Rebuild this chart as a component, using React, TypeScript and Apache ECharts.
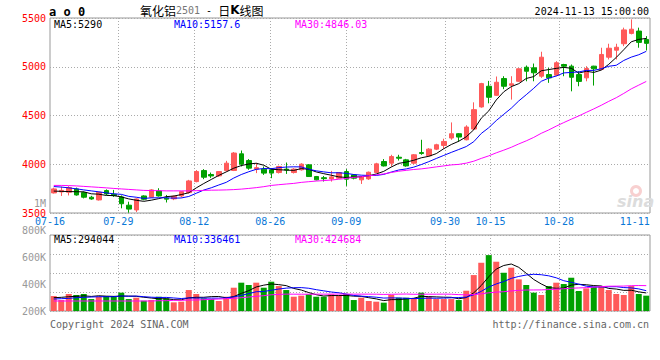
import React, { useEffect, useRef } from 'react';
import * as echarts from 'echarts';

const dates = [
  '07-16','07-17','07-18','07-19','07-22','07-23','07-24','07-25','07-26','07-29','07-30','07-31',
  '08-01','08-02','08-05','08-06','08-07','08-08','08-09','08-12','08-13','08-14','08-15','08-16',
  '08-19','08-20','08-21','08-22','08-23','08-26','08-27','08-28','08-29','08-30',
  '09-02','09-03','09-04','09-05','09-06','09-09','09-10','09-11','09-12','09-13','09-18','09-19',
  '09-20','09-23','09-24','09-25','09-26','09-27','09-30',
  '10-08','10-09','10-10','10-11','10-14','10-15','10-16','10-17','10-18','10-21','10-22','10-23',
  '10-24','10-25','10-28','10-29','10-30','10-31',
  '11-01','11-04','11-05','11-06','11-07','11-08','11-11','11-12','11-13'
];

const opens = [
  3706,3716,3713,3747,3709,3662,3634,3730,3692,3665,3580,3531,
  3675,3662,3726,3652,3645,3675,3709,3822,3935,3895,3881,3935,
  3936,4107,4038,3950,3950,3943,3915,3950,3915,3943,
  3994,3874,3862,3850,3857,3925,3891,3840,3850,3915,4028,4011,
  4072,4045,4011,4120,4087,4155,4193,
  4269,4313,4251,4361,4588,4800,4707,4879,4810,4851,4995,4989,
  4903,4920,4913,5023,5006,4920,
  4886,5006,4972,5098,5170,5236,5342,5366,5280
];
const closes = [
  3747,3732,3761,3685,3662,3644,3713,3696,3678,3595,3540,3644,
  3641,3737,3675,3642,3672,3719,3829,3925,3867,3880,3925,4011,
  4115,4001,3960,3965,3909,3909,3977,3940,3950,4001,
  3874,3840,3852,3870,3915,3847,3857,3874,3918,4004,3983,4079,
  4062,3983,4097,4110,4155,4200,4234,
  4313,4279,4382,4560,4827,4687,4841,4800,4825,4979,4954,4938,
  5098,4886,5041,5005,4892,4850,
  4982,4979,5126,5190,5200,5378,5385,5250,5240
];
const lows = [
  3700,3675,3680,3678,3650,3636,3628,3684,3665,3548,3503,3510,
  3630,3655,3668,3608,3632,3660,3700,3815,3847,3860,3870,3925,
  3930,3977,3943,3909,3891,3857,3905,3901,3905,3935,
  3870,3835,3823,3822,3850,3778,3845,3798,3840,3910,3977,3977,
  4038,3975,4000,4097,4080,4145,4159,
  4251,4230,4245,4350,4580,4625,4700,4770,4663,4845,4851,4851,
  4886,4835,4903,4903,4748,4800,
  4851,4807,4965,5075,5075,5211,5332,5195,5167
];
const highs = [
  3760,3771,3775,3760,3720,3676,3718,3742,3737,3680,3616,3650,
  3682,3745,3754,3685,3680,3722,3840,3940,3950,3915,3930,4035,
  4125,4141,4053,4012,3977,3960,3985,4018,3960,4010,
  4000,3880,3880,3932,3920,3950,3900,3880,3925,4015,4053,4097,
  4097,4055,4105,4251,4165,4210,4262,
  4429,4320,4400,4635,4835,4855,4900,4903,4903,4985,5013,5033,
  5154,4989,5057,5030,5023,4954,
  5006,5010,5195,5236,5236,5401,5486,5401,5314
];
const volumes = [
  244000,179000,277000,261000,277000,195000,233000,244000,244000,299000,195000,217000,
  168000,179000,233000,206000,141000,152000,342000,277000,206000,195000,163000,233000,
  380000,462000,424000,462000,380000,478000,407000,342000,233000,250000,
  272000,233000,233000,272000,250000,277000,179000,217000,163000,152000,136000,261000,
  217000,217000,206000,299000,233000,195000,195000,
  195000,179000,331000,586000,787000,912000,804000,624000,706000,516000,424000,299000,
  261000,407000,462000,440000,543000,326000,
  369000,396000,407000,342000,277000,261000,407000,277000,250000
];

// moving-average values before the visible window begins
const ma5Head = [3725, 3722, 3720, 3718];
const ma10Head = [3771, 3766, 3758, 3748, 3737, 3727, 3717, 3706, 3697];
const ma30Head = [
  3783,3783,3781,3778,3773,3768,3763,3758,3752,3747,3742,3737,3732,3730,3729,
  3727,3727,3727,3727,3729,3732,3734,3735,3737,3740,3745,3752,3760,3770
];
const volMa5Head = [217000, 223000, 233000, 239000];
const volMa10Head = [195000, 201000, 206000, 217000, 223000, 228000, 233000, 233000, 233000];
const volMa30Head = [
  163000,163000,163000,163000,163000,163000,163000,163000,163000,163000,163000,163000,163000,
  163000,168000,168000,174000,174000,179000,179000,185000,190000,195000,201000,206000,
  217000,228000,239000,250000
];

const xTickLabels = ['07-16','07-29','08-12','08-26','09-09','09-30','10-15','10-28','11-11'];
const xGridDates = ['07-29','08-12','08-26','09-09','09-30','10-15','10-28'];
const volTickLabels = ['200K','400K','600K','800K','1M'];
const mainLegend = ['MA5:5290', 'MA10:5157.6', 'MA30:4846.03'];
const volLegend = ['MA5:294044', 'MA10:336461', 'MA30:424684'];
const legendColors = ['#000000', '#0000ff', '#ff00ff'];

const UP = '#ff5a5a';
const DOWN = '#00a000';
const MONO = "'DejaVu Sans Mono', monospace";

function movingAverage(values: number[], n: number, head: number[]) {
  return values.map((_, i) => {
    if (i < n - 1) return head[i];
    let s = 0;
    for (let k = i - n + 1; k <= i; k++) s += values[k];
    return +(s / n).toFixed(2);
  });
}

export default function App() {
  const ref = useRef<HTMLDivElement>(null);
  useEffect(() => {
    if (!ref.current) return;
    const chart = echarts.init(ref.current, null, { renderer: 'svg' });
    const candles = dates.map((_, i) => [opens[i], closes[i], lows[i], highs[i]]);
    const volData = volumes.map((v, i) => ({
      value: v,
      itemStyle: { color: closes[i] >= opens[i] ? UP : DOWN },
    }));
    const dotted = { color: '#aaaaaa', width: 1, type: [1, 2] as any };
    const lineSeries = (name: string, data: number[], color: string, xi: number, yi: number) => ({
      name, type: 'line', data, xAxisIndex: xi, yAxisIndex: yi, showSymbol: false, symbol: 'none',
      silent: true, lineStyle: { color, width: 1 }, z: 3,
    });
    const legendText = (arr: string[], y: number) =>
      arr.map((t, k) => ({
        type: 'text', x: [54, 174, 295][k], y, z: 10,
        style: { text: t, fill: legendColors[k], font: `10px ${MONO}`, verticalAlign: 'middle', align: 'left' },
      }));

    const option: any = {
      animation: false,
      backgroundColor: '#ffffff',
      textStyle: { fontFamily: MONO },
      grid: [
        { left: 50, right: 10, top: 18, height: 195, show: true, borderColor: '#999', borderWidth: 1 },
        { left: 50, right: 10, top: 235, height: 76, show: true, borderColor: '#999', borderWidth: 1 },
        { left: 50, right: 10, top: 203, height: 108, show: false },
      ],
      xAxis: [
        { type: 'category', gridIndex: 0, position: 'bottom', data: dates, boundaryGap: true, show: false },
        {
          type: 'category', gridIndex: 0, position: 'bottom', data: dates, boundaryGap: false,
          axisLine: { show: false }, axisTick: { show: false },
          axisLabel: {
            interval: (_i: number, v: string) => xTickLabels.includes(v),
            color: '#0a78d7', fontSize: 10, lineHeight: 10, fontFamily: MONO, margin: 3,
          },
          splitLine: { show: true, interval: (_i: number, v: string) => xGridDates.includes(v), lineStyle: dotted },
        },
        { type: 'category', gridIndex: 1, position: 'bottom', data: dates, boundaryGap: true, show: false },
        {
          type: 'category', gridIndex: 1, position: 'bottom', data: dates, boundaryGap: false,
          axisLine: { show: false }, axisTick: { show: false }, axisLabel: { show: false },
          splitLine: { show: true, interval: (_i: number, v: string) => xGridDates.includes(v), lineStyle: dotted },
        },
        { type: 'category', gridIndex: 2, position: 'bottom', data: dates, show: false },
      ],
      yAxis: [
        {
          type: 'value', gridIndex: 0, min: 3500, max: 5500, interval: 500,
          axisLine: { show: false }, axisTick: { show: false },
          axisLabel: {
            color: '#ff0000', fontSize: 10, lineHeight: 10, padding: [0, 0, 5, 0],
            fontFamily: MONO, margin: 4, formatter: (v: number) => String(v),
          },
          splitLine: { show: true, lineStyle: dotted },
        },
        {
          type: 'value', gridIndex: 1, min: 0, max: 1240000, interval: 310000,
          axisLine: { show: false }, axisTick: { show: false }, axisLabel: { show: false },
          splitLine: { show: true, lineStyle: dotted },
        },
        {
          type: 'category', gridIndex: 2, data: volTickLabels, boundaryGap: false,
          axisLine: { show: false }, axisTick: { show: false }, splitLine: { show: false },
          axisLabel: { color: '#999999', fontSize: 10, lineHeight: 6, fontFamily: MONO, margin: 4 },
        },
      ],
      series: [
        {
          type: 'candlestick', data: candles, xAxisIndex: 0, yAxisIndex: 0, barWidth: 5, silent: true,
          itemStyle: { color: UP, color0: DOWN, borderColor: UP, borderColor0: DOWN, borderWidth: 1 },
        },
        lineSeries('MA5', movingAverage(closes, 5, ma5Head), legendColors[0], 0, 0),
        lineSeries('MA10', movingAverage(closes, 10, ma10Head), legendColors[1], 0, 0),
        lineSeries('MA30', movingAverage(closes, 30, ma30Head), legendColors[2], 0, 0),
        { type: 'bar', data: volData, xAxisIndex: 2, yAxisIndex: 1, barWidth: 6, silent: true },
        lineSeries('VMA5', movingAverage(volumes, 5, volMa5Head), legendColors[0], 2, 1),
        lineSeries('VMA10', movingAverage(volumes, 10, volMa10Head), legendColors[1], 2, 1),
        lineSeries('VMA30', movingAverage(volumes, 30, volMa30Head), legendColors[2], 2, 1),
      ],
      graphic: [
        {
          type: 'text', x: 49, y: 12, z: 10,
          style: { text: 'a o 0', font: `bold 12px ${MONO}`, fill: '#000', verticalAlign: 'middle', align: 'left' },
        },
        {
          type: 'text', x: 140, y: 10, z: 10,
          style: {
            text: '{c|氧化铝}{g|2501}{m| - }{c|日}{k|K}{c|线图}',
            verticalAlign: 'middle', align: 'left',
            rich: {
              c: { fontFamily: "'Noto Sans CJK SC'", fontSize: 12, fill: '#000', color: '#000' },
              g: { fontFamily: MONO, fontSize: 10, fill: '#777', color: '#777' },
              m: { fontFamily: MONO, fontSize: 10, fill: '#000', color: '#000' },
              k: { fontFamily: "'DejaVu Sans'", fontSize: 12, fontWeight: 'bold', fill: '#000', color: '#000' },
            },
          },
        },
        {
          type: 'text', x: 649, y: 11, z: 10,
          style: { text: '2024-11-13 15:00:00', font: `10px ${MONO}`, fill: '#000', verticalAlign: 'middle', align: 'right' },
        },
        ...legendText(mainLegend, 24),
        ...legendText(volLegend, 239),
        {
          type: 'text', x: 50, y: 324, z: 10,
          style: { text: 'Copyright 2024 SINA.COM', font: `10px ${MONO}`, fill: '#666', verticalAlign: 'middle', align: 'left' },
        },
        {
          type: 'text', x: 649, y: 324, z: 10,
          style: { text: 'http://finance.sina.com.cn', font: `10px ${MONO}`, fill: '#666', verticalAlign: 'middle', align: 'right' },
        },
        {
          type: 'ring', x: 636, y: 191, z: 1,
          shape: { r: 6, r0: 3 }, style: { fill: '#f8d0d0' },
        },
        {
          type: 'text', x: 617, y: 201, z: 1,
          style: { text: 'sina', font: "italic bold 16px 'DejaVu Sans'", fill: '#dcdcdc', verticalAlign: 'middle', align: 'left' },
        },
      ],
    };
    chart.setOption(option);
    return () => chart.dispose();
  }, []);
  return <div ref={ref} style={{ position: 'fixed', left: 0, top: 0, width: 660, height: 360 }} />;
}
